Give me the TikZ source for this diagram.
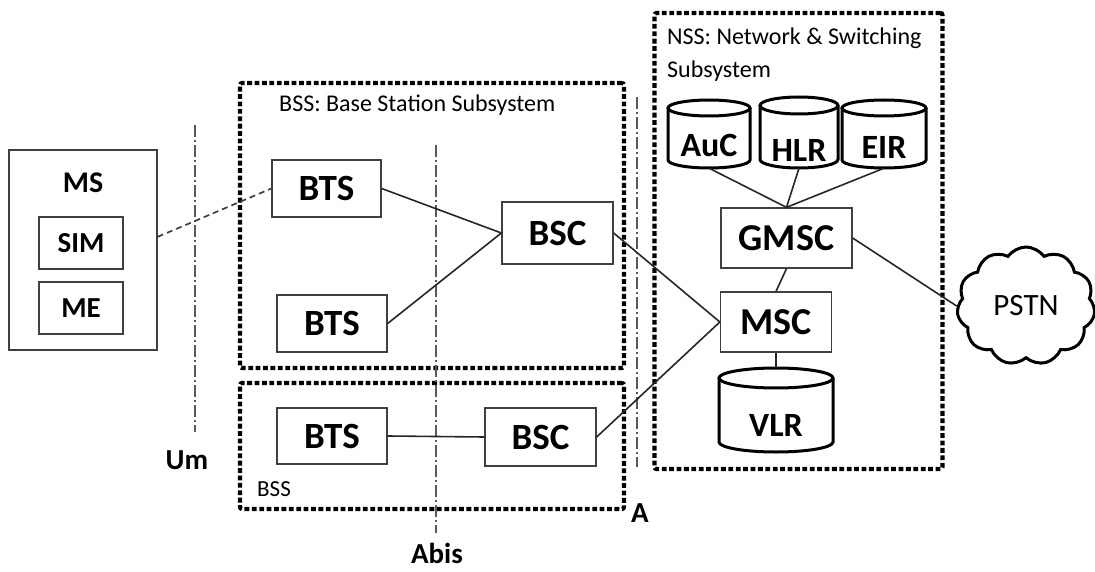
\documentclass[tikz,border=0pt]{standalone}
\usepackage{fontspec}
\setmainfont{Carlito}
\usetikzlibrary{shapes.symbols}
\newcommand\dbcyl[7]{% name, cx, cy, w, h, ry, label y
  \node[inner sep=0pt,minimum width=#4,minimum height=#5] (#1) at (#2,#3) {};
  \draw[cylline] (#2-#4/2,#3-#5/2+#6) -- (#2-#4/2,#3+#5/2-#6)
     arc[start angle=180,end angle=0,x radius=#4/2,y radius=#6]
     -- (#2+#4/2,#3-#5/2+#6);
  \draw[cylline] (#2,#3-#5/2+#6) ellipse[x radius=#4/2,y radius=#6];
}
\begin{document}
\begin{tikzpicture}[x=1pt,y=-1pt,
  box/.style={draw=black!75,line width=1.3pt,inner sep=0pt},
  bigtxt/.style={font=\fontsize{37}{39}\selectfont\bfseries},
  midtxt/.style={font=\fontsize{29}{31}\selectfont\bfseries},
  cyltxt/.style={font=\fontsize{34}{36}\selectfont\bfseries,inner sep=0pt},
  smalltxt/.style={font=\fontsize{24}{33}\selectfont,inner sep=0pt},
  cylline/.style={draw=black,line width=3pt},
  link/.style={draw=black!85,line width=1.6pt},
  radio/.style={draw=black!75,line width=1.7pt,dash pattern=on 6pt off 4pt},
  iface/.style={draw=black!65,line width=1.1pt,dash pattern=on 12pt off 3pt on 2pt off 3pt},
  dotbox/.style={draw=black,line width=4.2pt,dash pattern=on 4.8pt off 2.6pt,rounded corners=2pt,inner sep=0pt}]
\useasboundingbox (0,0) rectangle (1095,572);

% subsystem frames
\node[dotbox,minimum width=384,minimum height=285] (bss1) at (432,225.5) {};
\node[dotbox,minimum width=384,minimum height=126] (bss2) at (432,446) {};
\node[dotbox,minimum width=288,minimum height=456] (nss) at (798.5,241) {};
\node[smalltxt,anchor=west] (bss1lbl) at (279,105) {BSS: Base Station Subsystem};
\node[smalltxt,anchor=west,font=\fontsize{23}{25}\selectfont] (bss2lbl) at (257,489) {BSS};
\node[smalltxt,anchor=west,align=left] (nsslbl) at (667,55) {NSS: Network \& Switching\\Subsystem};

% interfaces
\coordinate (um1) at (195,125);
\coordinate (um2) at (195,432);
\coordinate (ab1) at (436,145);
\coordinate (ab2) at (436,533);
\coordinate (a1) at (637,97);
\coordinate (a2) at (637,467);
\draw[iface] (um1) -- (um2);
\draw[iface] (ab1) -- (ab2);
\draw[iface] (a1) -- (a2);
\node[midtxt] (umlbl) at (187,460) {Um};
\node[midtxt] (ablbl) at (437,553) {Abis};
\node[midtxt] (albl) at (640,513) {A};

% mobile station
\node[box,minimum width=148,minimum height=200] (ms) at (83,250) {};
\node[midtxt,font=\fontsize{30}{32}\selectfont\bfseries] (mslbl) at (83,183) {MS};
\node[box,midtxt,minimum width=84,minimum height=52] (sim) at (81,243) {SIM};
\node[box,midtxt,minimum width=84,minimum height=52] (me) at (81,308) {ME};

% BSS elements
\node[box,bigtxt,minimum width=109,minimum height=57] (bts1) at (326.5,188.5) {BTS};
\node[box,bigtxt,minimum width=110,minimum height=57] (bts2) at (332,323.5) {BTS};
\node[box,bigtxt,minimum width=110,minimum height=56] (bts3) at (332,436) {BTS};
\node[box,bigtxt,minimum width=111,minimum height=62] (bsc1) at (557.5,233) {BSC};
\node[box,bigtxt,minimum width=111,minimum height=58] (bsc2) at (540.5,437) {BSC};

% NSS elements
\node[box,bigtxt,font=\fontsize{38}{40}\selectfont\bfseries,minimum width=131,minimum height=60] (gmsc) at (786.5,238) {GMSC};
\node[box,bigtxt,font=\fontsize{38}{40}\selectfont\bfseries,minimum width=111,minimum height=60] (msc) at (776,322) {MSC};
\dbcyl{auc}{709}{134}{82}{68}{8}{}
\dbcyl{hlr}{799}{132.5}{78}{71}{8.5}{}
\dbcyl{eir}{884}{134}{84}{68}{8}{}
\dbcyl{vlr}{776}{410}{114}{84}{10}{}
\node[cyltxt] (auctxt) at (709,145) {AuC};
\node[cyltxt] (hlrtxt) at (799,150) {HLR};
\node[cyltxt] (eirtxt) at (884,147) {EIR};
\node[cyltxt] (vlrtxt) at (776,425) {VLR};

\node[cloud,cloud puffs=11,cloud puff arc=110,aspect=1.15,draw=black,line width=3pt,
      minimum width=138,minimum height=118,inner sep=0pt,
      font=\fontsize{31}{33}\selectfont] (pstn) at (1026,306) {PSTN};

% connectors
\draw[radio] (ms.10) -- (bts1.west);
\draw[link] (bts1.east) -- (bsc1.west);
\draw[link] (bts2.east) -- (bsc1.west);
\draw[link] (bts3.east) -- (bsc2.west);
\draw[link] (bsc1.east) -- (msc.west);
\draw[link] (bsc2.east) -- (msc.west);
\draw[link] (auc.south) -- (gmsc.north);
\draw[link] (hlr.south) -- (gmsc.north);
\draw[link] (eir.south) -- (gmsc.north);
\draw[link] (gmsc.south) -- (msc.north);
\draw[link] (msc.south) -- (vlr.north);
\draw[link] (gmsc.east) -- (pstn.west);
\end{tikzpicture}
\end{document}
